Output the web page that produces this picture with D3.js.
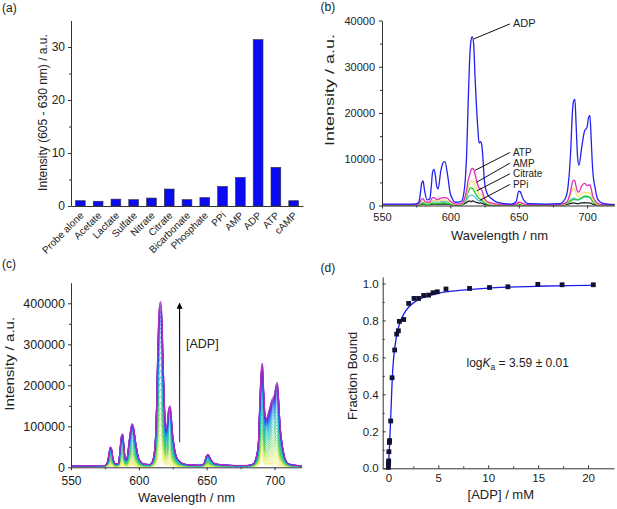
<!DOCTYPE html>
<html><head><meta charset="utf-8">
<script src="https://cdn.jsdelivr.net/npm/d3@7"></script>
<style>
body{margin:0;background:#fff;}
svg{display:block;font-family:"Liberation Sans",Arial,sans-serif;}
</style></head><body>
<svg id="chart" width="617" height="509"></svg>
<script>
// ---------- Panel (a) ----------
const categories = ["Probe alone","Acetate","Lactate","Sulfate","Nitrate","Citrate","Bicarbonate","Phosphate","PPi","AMP","ADP","ATP","cAMP"];
const bandIntensity = [1.0,0.9,1.3,1.2,1.5,3.2,1.2,1.6,3.7,5.4,31.4,7.3,1.0];
const aTicks = [0,10,20,30];

// ---------- Spectra (b), (c) : shared wavelength grid ----------
const wavelengths = [550,565,575,577,578,579,580,581,583,585,
 586,587,588,589,590,591,593,595,596,598,
 600,604,608,610,612,613,614,615,616,617,
 618,620,621,622,623,625,627,630,635,645,
 648,650,651,653,657,670,680,684,686,688,
 689,690,691,692,693,694,696,698,700,701,
 702,703,704,706,708,711,715,720];
const specADP = [300,300,350,800,2500,4800,5300,3500,1200,1500,
 4000,7200,7800,6500,4200,3600,7500,9400,9500,6500,
 2500,700,900,3000,12000,22000,31000,35500,36500,35000,
 28000,17000,13500,13800,13000,5000,2500,1500,600,300,
 800,3100,3000,1500,400,300,400,1500,4000,12000,
 19000,22500,23000,17000,10500,8700,12500,16000,17000,19000,
 19500,14000,8000,3500,1200,500,300,200];
const specATP = [200,200,200,400,900,1400,1500,1000,700,800,
 1300,1700,1700,1500,1200,1300,1600,1700,1700,1500,
 900,300,400,1200,3500,5500,6500,7600,8000,7800,
 6800,4500,3800,3700,3300,1500,800,500,300,200,
 300,700,650,400,200,200,250,500,1200,3200,
 4800,5500,5300,4000,3000,2900,4200,4800,4300,4400,
 4500,3500,2200,1000,400,200,150,150];
const specAMP = [150,150,150,300,600,900,1000,700,500,600,
 900,1100,1100,1000,800,900,1100,1200,1200,1000,
 600,200,300,900,2500,3800,4700,5200,5300,5100,
 4400,3000,2500,2500,2200,1000,500,300,200,150,
 200,450,450,250,150,150,200,400,900,2300,
 3400,3700,3500,2600,2000,1900,2600,2900,2700,2800,
 2800,2200,1400,600,250,150,100,100];
const specCitrate = [100,100,100,150,250,350,400,300,250,300,
 400,450,450,400,350,400,500,550,550,450,
 300,150,200,700,1900,2900,3600,3800,3700,3400,
 2800,1800,1500,1400,1200,600,300,200,150,100,
 150,300,300,150,100,100,150,300,600,1000,
 1200,1300,1300,1200,1200,1300,1700,2000,2000,1900,
 1800,1400,900,400,200,100,80,80];
const specPPi = [100,100,100,120,180,250,280,220,180,200,
 250,300,300,280,250,260,300,320,320,280,
 200,120,150,350,700,900,1000,800,1000,950,
 750,600,500,550,450,250,150,120,100,100,
 120,200,200,120,100,100,120,200,300,450,
 500,550,500,450,400,420,550,600,550,580,
 560,450,300,180,120,100,80,80];
const specOther = [200,200,200,250,400,600,650,500,400,500,
 700,800,800,750,700,750,850,900,900,750,
 450,200,250,600,1300,1800,2100,2200,2200,2100,
 1800,1200,1000,1000,900,450,250,200,200,200,
 250,400,400,250,200,200,250,400,700,1200,
 1500,1600,1600,1400,1300,1300,1600,1800,1800,1750,
 1700,1300,900,450,250,200,150,150];
const bLabels = ["ADP","ATP","AMP","Citrate","PPi"];
const bLabelWl = [617,618,619,619.5,621.5];
const bLabelVal = [36000,7600,5000,3200,1100];
const bTextWl = [645,645,645,645,645];
const bTextVal = [38500,10700,8400,6100,3800];

// (c) titration: free-probe spectrum, ADP-saturated spectrum, and relative titration levels
const specFree = [2000,2000,2000,2300,2800,3300,3200,2600,2200,2300,
 2900,3500,3600,3100,2700,2700,3400,4000,3900,3000,
 2400,2000,2100,2600,4500,7000,10000,12500,13000,12000,
 9000,5500,5000,5500,5300,3500,2600,2200,2000,2000,
 2100,2800,2800,2300,2000,2000,2000,2300,3000,5500,
 9000,12000,12500,9500,7000,6000,5500,5500,5500,5600,
 5700,4800,3800,2800,2300,2100,2000,2000];
const specBound = [4000,4000,4500,15000,35000,50000,45000,22000,8000,10000,
 40000,75000,82000,55000,22000,20000,70000,107000,100000,55000,
 22000,8000,7000,15000,60000,150000,300000,390000,405000,370000,
 250000,95000,110000,145000,150000,80000,35000,15000,7000,5000,
 10000,30000,32000,20000,8000,4500,4500,8000,20000,60000,
 150000,230000,254000,190000,130000,120000,140000,165000,180000,200000,
 207000,170000,110000,50000,20000,8000,5000,4000];
const titrationLevels = [0,0.025,0.05,0.08,0.11,0.14,0.17,0.2,0.235,0.27,0.3,0.335,0.37,0.41,0.45,0.49,0.53,0.57,0.61,0.65,0.685,0.72,0.75,0.78,0.81,0.835,0.86,0.88,0.9,0.915,0.93,0.945,0.96,0.975,0.99,1.0];

// ---------- Panel (d) ----------
const adpConc = [0,0.01,0.02,0.03,0.05,0.1,0.12,0.23,0.37,0.63,0.83,1.0,1.1,1.53,2.03,2.57,3.03,3.53,4.03,4.47,4.9,5.77,8.13,10.13,11.97,14.97,17.4,20.53];
const fracBound = [0.005,0.02,0.03,0.04,0.09,0.14,0.15,0.256,0.49,0.64,0.726,0.744,0.795,0.805,0.892,0.919,0.919,0.935,0.937,0.95,0.955,0.97,0.973,0.978,0.982,0.995,0.993,0.993];
const fitConc = [0,0.1,0.2,0.3,0.4,0.5,0.6,0.8,1.0,1.25,1.5,2,2.5,3,4,5,6,8,10,12,15,18,20.5];
const fitFrac = [0,0.11,0.23,0.37,0.5,0.58,0.635,0.71,0.76,0.8,0.83,0.87,0.895,0.912,0.933,0.947,0.956,0.967,0.975,0.98,0.985,0.988,0.99];

// ================= drawing =================
const svg = d3.select("#chart");
const AX = "#333", TX = "#222";

function styleAxis(g, fs){
  g.select(".domain").attr("stroke",AX).attr("stroke-width",1);
  g.selectAll(".tick line").attr("stroke",AX).attr("stroke-width",1);
  g.selectAll(".tick text").attr("fill",TX).attr("font-size",fs).attr("font-family","Liberation Sans, Arial, sans-serif");
  return g;
}
function minor(g, axisFn, scale, vals, size){
  const m = g.append("g").call(axisFn(scale).tickValues(vals).tickSize(size).tickFormat(()=>"").tickSizeOuter(0));
  m.select(".domain").remove();
  m.selectAll(".tick line").attr("stroke",AX);
}
function label(x,y,txt,fs,opts={}){
  const t = svg.append("text").attr("x",x).attr("y",y).attr("font-size",fs).attr("fill",TX).text(txt);
  if(opts.anchor) t.attr("text-anchor",opts.anchor);
  if(opts.rotate){ t.attr("transform",`rotate(-90,${x},${y})`); }
  if(opts.len){ t.attr("textLength",opts.len).attr("lengthAdjust","spacingAndGlyphs"); }
  return t;
}

// ---- (a) ----
const xA = d3.scaleBand().domain(categories).range([71,303]).paddingInner(0.45).paddingOuter(0.25);
const yA = d3.scaleLinear().domain([0,35]).range([206,20.5]);
svg.append("g").selectAll("rect").data(categories).join("rect")
  .attr("x",d=>xA(d)).attr("width",xA.bandwidth())
  .attr("y",(d,i)=>yA(bandIntensity[i])).attr("height",(d,i)=>yA(0)-yA(bandIntensity[i]))
  .attr("fill","#0b0bf2").attr("stroke","#333").attr("stroke-width",0.6);
const gAy = svg.append("g").attr("transform","translate(71,0)");
gAy.call(d3.axisLeft(yA).tickValues(aTicks).tickSize(3).tickPadding(3).tickSizeOuter(0));
minor(gAy, d3.axisLeft, yA, [5,15,25], 2);
styleAxis(gAy, 12);
const gAx = svg.append("g").attr("transform","translate(0,206)");
gAx.call(d3.axisBottom(xA).tickSize(0).tickSizeOuter(0));
styleAxis(gAx, 10);
gAx.selectAll(".tick text").attr("text-anchor","end").attr("dy",null).attr("y",0)
  .attr("transform","translate(4,10) rotate(-45)");
label(43,112.5,"Intensity (605 - 630 nm) / a.u.",12,{anchor:"middle",rotate:true}).attr("dy","0.35em");
label(2,11.5,"(a)",12);

// ---- (b) ----
const xB = d3.scaleLinear().domain([550,720]).range([382,614.5]);
const yB = d3.scaleLinear().domain([0,40000]).range([205.5,20.5]);
const lineB = d3.line().x((d,i)=>xB(wavelengths[i])).y(d=>yB(d)).curve(d3.curveMonotoneX);
const bSeries = [[specOther,"#5cc4e6"],[specPPi,"#222222"],[specCitrate,"#22cc22"],[specAMP,"#ece070"],[specATP,"#e02cbc"],[specADP,"#2222f0"]];
bSeries.forEach(([s,c])=>svg.append("path").attr("d",lineB(s)).attr("fill","none").attr("stroke",c).attr("stroke-width",1.3).attr("stroke-linejoin","round"));
const gBy = svg.append("g").attr("transform","translate(382,0)");
gBy.call(d3.axisLeft(yB).tickValues([0,10000,20000,30000,40000]).tickSize(3).tickPadding(4).tickSizeOuter(0).tickFormat(d3.format("d")));
minor(gBy, d3.axisLeft, yB, [5000,15000,25000,35000], 2);
styleAxis(gBy, 11);
const gBx = svg.append("g").attr("transform","translate(0,205.5)");
gBx.call(d3.axisBottom(xB).tickValues([550,600,650,700]).tickSize(3).tickPadding(5).tickSizeOuter(0));
minor(gBx, d3.axisBottom, xB, [575,625,675], 2);
styleAxis(gBx, 11);
bLabels.forEach((l,i)=>{
  svg.append("line").attr("x1",xB(bTextWl[i])-2).attr("y1",yB(bTextVal[i])-3.5)
    .attr("x2",xB(bLabelWl[i])).attr("y2",yB(bLabelVal[i])).attr("stroke","#111").attr("stroke-width",1);
  label(xB(bTextWl[i])+1,yB(bTextVal[i]),l,i===0?11:10);
});
label(329,90,"Intensity / a.u.",13,{anchor:"middle",rotate:true,len:112}).attr("dy","0.35em");
label(499.5,240,"Wavelength / nm",13,{anchor:"middle"});
label(320.5,11,"(b)",12);

// ---- (c) ----
const xC = d3.scaleLinear().domain([550,720]).range([71,301.7]);
const yC = d3.scaleLinear().domain([0,450000]).range([467.3,282.8]);
const lineC = d3.line().x((d,i)=>xC(wavelengths[i])).y(d=>yC(d)).curve(d3.curveMonotoneX);
const cColor = d3.scaleLinear().domain([0,0.12,0.3,0.45,0.6,0.78,0.9,1])
  .range(["#f4f080","#d8ec50","#60d050","#20c8a0","#20b0e0","#2a50f0","#6a28d0","#b030c0"]).interpolate(d3.interpolateRgb);
titrationLevels.forEach((lv,k)=>{
  const s = wavelengths.map((w,j)=>specFree[j]+lv*(specBound[j]-specFree[j]));
  svg.append("path").attr("d",lineC(s)).attr("fill","none").attr("stroke",cColor(k/(titrationLevels.length-1))).attr("stroke-width",0.8);
});
const gCy = svg.append("g").attr("transform","translate(71,0)");
gCy.call(d3.axisLeft(yC).tickValues([0,100000,200000,300000,400000]).tickSize(3).tickPadding(3).tickSizeOuter(0).tickFormat(d3.format("d")));
minor(gCy, d3.axisLeft, yC, [50000,150000,250000,350000], 2);
styleAxis(gCy, 12.5);
const gCx = svg.append("g").attr("transform","translate(0,467.3)");
gCx.call(d3.axisBottom(xC).tickValues([550,600,650,700]).tickSize(3).tickPadding(6).tickSizeOuter(0));
minor(gCx, d3.axisBottom, xC, [575,625,675], 2);
styleAxis(gCx, 12);
const defs = svg.append("defs");
const grad = defs.append("linearGradient").attr("id","arrg").attr("gradientUnits","userSpaceOnUse")
  .attr("x1",0).attr("y1",yC(75000)).attr("x2",0).attr("y2",yC(400000));
grad.append("stop").attr("offset","0%").attr("stop-color","#4040c0");
grad.append("stop").attr("offset","100%").attr("stop-color","#000");
defs.append("marker").attr("id","arrh").attr("viewBox","0 0 10 10").attr("refX",9).attr("refY",5)
  .attr("markerWidth",5).attr("markerHeight",5).attr("orient","auto")
  .append("path").attr("d","M0,0 L10,5 L0,10 z").attr("fill","#000");
svg.append("line").attr("x1",xC(630)).attr("x2",xC(630)).attr("y1",yC(61000)).attr("y2",yC(400000))
  .attr("stroke","url(#arrg)").attr("stroke-width",1.2).attr("marker-end","url(#arrh)");
label(186,347.5,"[ADP]",12.5);
label(9,363.8,"Intensity / a.u.",13.5,{anchor:"middle",rotate:true,len:94}).attr("dy","0.35em");
label(186.5,502,"Wavelength / nm",13,{anchor:"middle"});
label(2,268,"(c)",12);

// ---- (d) ----
const xD = d3.scaleLinear().domain([-0.57,22.6]).range([382.7,614]);
const yD = d3.scaleLinear().domain([0,1.035]).range([468.3,277]);
const gDy = svg.append("g").attr("transform","translate(382.7,0)");
gDy.call(d3.axisLeft(yD).tickValues([0,0.2,0.4,0.6,0.8,1.0]).tickSize(-3).tickPadding(4).tickSizeOuter(0).tickFormat(d3.format(".1f")));
minor(gDy, d3.axisLeft, yD, [0.1,0.3,0.5,0.7,0.9], -2);
styleAxis(gDy, 11.5);
const gDx = svg.append("g").attr("transform","translate(0,468.3)");
gDx.call(d3.axisBottom(xD).tickValues([0,5,10,15,20]).tickSize(-3).tickPadding(5).tickSizeOuter(0));
minor(gDx, d3.axisBottom, xD, [2.5,7.5,12.5,17.5], -2);
styleAxis(gDx, 11.5);
gDx.selectAll(".tick text").attr("y",6);
const lineD = d3.line().x((d,i)=>xD(fitConc[i])).y(d=>yD(d)).curve(d3.curveMonotoneX);
svg.append("path").attr("d",lineD(fitFrac)).attr("fill","none").attr("stroke","#1c1cf0").attr("stroke-width",1.3);
svg.append("g").selectAll("rect").data(adpConc).join("rect")
  .attr("x",(d)=>xD(d)-2.4).attr("y",(d,i)=>yD(fracBound[i])-2.4).attr("width",4.8).attr("height",4.8)
  .attr("fill","#111133");
const lk = svg.append("text").attr("x",466.5).attr("y",366.5).attr("font-size",12).attr("fill",TX);
lk.append("tspan").text("log");
lk.append("tspan").attr("font-style","italic").text("K");
lk.append("tspan").attr("font-size",8.5).attr("dy",3).text("a");
lk.append("tspan").attr("dy",-3).text(" = 3.59 \u00b1 0.01");
label(352,375.8,"Fraction Bound",13,{anchor:"middle",rotate:true}).attr("dy","0.35em");
label(500.8,499.3,"[ADP] / mM",13,{anchor:"middle"});
label(320.5,272,"(d)",12);
</script>
</body></html>
